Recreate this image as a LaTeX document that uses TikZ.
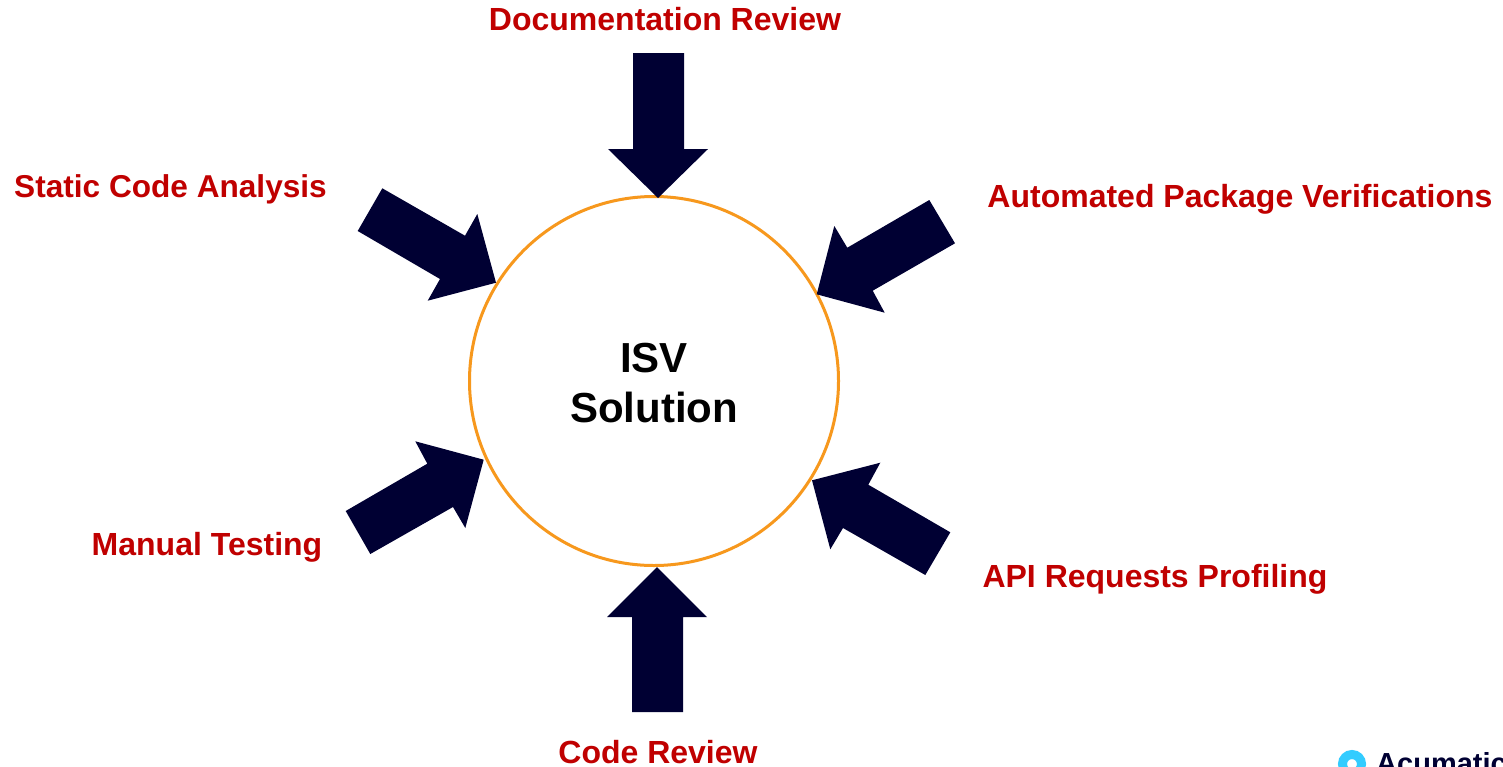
\documentclass[tikz,border=0pt]{standalone}
\usepackage{fontspec}
\setmainfont{Liberation Sans}
\definecolor{navy}{HTML}{000033}
\definecolor{lab}{HTML}{C00000}
\definecolor{ring}{HTML}{F7981D}
\definecolor{logoblue}{HTML}{33CCFF}
\tikzset{
  lbl/.style={text=lab,font=\fontsize{32}{38}\selectfont\bfseries,inner sep=0pt,anchor=base},
  arrowshape/.style={fill=navy,draw=none},
}
\begin{document}
\begin{tikzpicture}[x=1pt,y=-1pt]
\useasboundingbox (0,0) rectangle (1503,766);
\fill[white] (0,0) rectangle (1503,766);
\node[circle,draw=ring,line width=3pt,minimum size=369pt,inner sep=0pt] (hub) at (654,381) {};
\node[font=\fontsize{42}{50}\selectfont\bfseries,align=center,inner sep=0pt] (title) at (654,383) {ISV\\Solution};
\fill[arrowshape] (633,53)--(684,53)--(684,149)--(708,149)--(658,198)--(608,149)--(633,149)--cycle;
\fill[arrowshape] (632,712)--(683,712)--(683,617)--(707,617)--(657,567)--(607,617)--(632,617)--cycle;
\fill[arrowshape] (382.3,188.3)--(465,235.7)--(477.3,214)--(496,282.7)--(427.7,300.7)--(440,279)--(357.7,231)--cycle;
\fill[arrowshape] (929.3,200)--(847.3,247.7)--(834.3,226)--(816.7,294.3)--(884.7,312.7)--(872.7,290.7)--(955,243.3)--cycle;
\fill[arrowshape] (950.3,532.3)--(868.3,484.7)--(880.3,462.7)--(812,480.3)--(830.3,549.3)--(843,528)--(925.3,575)--cycle;
\fill[arrowshape] (345.7,511)--(427.3,463.7)--(415.3,441.3)--(483.7,459.7)--(465.3,528)--(453,507)--(370.3,554)--cycle;
\node[lbl] (doc) at (665,30.7) {Documentation Review};
\node[lbl,font=\fontsize{31.6}{38}\selectfont\bfseries] (sca) at (170.5,197.3) {Static Code Analysis};
\node[lbl] (apv) at (1240,207.3) {Automated Package Verifications};
\node[lbl] (mt) at (207,555.3) {Manual Testing};
\node[lbl] (api) at (1155,587.3) {API Requests Profiling};
\node[lbl] (cr) at (658,763.5) {Code Review};
\begin{scope}
\clip (0,0) rectangle (1503,766);
\draw[logoblue,line width=9pt] (1352,764) circle (9.5pt);
\node[anchor=base west,inner sep=0pt,text=navy,font=\fontsize{29}{34}\selectfont\bfseries] (logo) at (1376,773) {Acumatica};
\end{scope}
\end{tikzpicture}
\end{document}
